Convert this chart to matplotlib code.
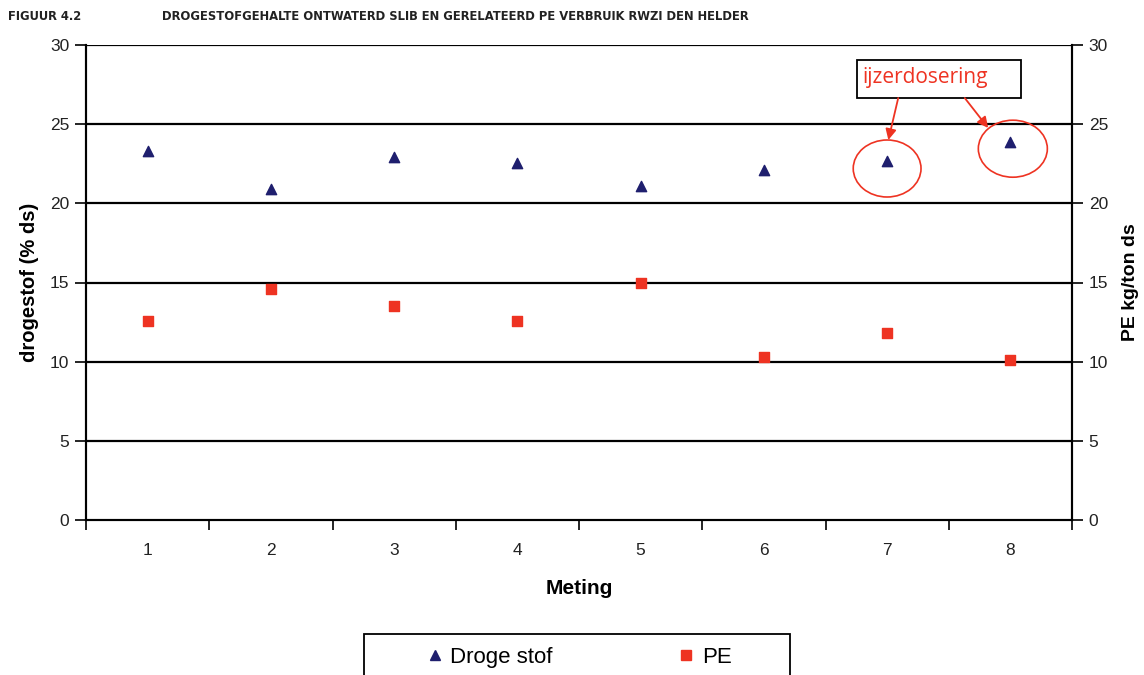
import matplotlib
matplotlib.use("Agg")
import matplotlib.pyplot as plt
from matplotlib.patches import Ellipse, Rectangle
from matplotlib.lines import Line2D

plt.rcParams['font.family'] = ['Liberation Sans', 'DejaVu Sans']

meting = [1, 2, 3, 4, 5, 6, 7, 8]
droge_stof = [23.3, 20.9, 22.9, 22.55, 21.1, 22.1, 22.7, 23.9]
pe = [12.6, 14.6, 13.5, 12.6, 15.0, 10.3, 11.8, 10.1]
yticks = [0, 5, 10, 15, 20, 25, 30]

W, H = 1144, 675
fig = plt.figure(figsize=(W/100, H/100), dpi=100)
ax = fig.add_axes([86/W, 1-520/H, (1072-86)/W, (520-45)/H])
ax2 = ax.twinx()

ax.set_xlim(0.5, 8.5)
ax.set_ylim(0, 30)
ax2.set_ylim(0, 30)
ax.set_yticks(yticks)
ax2.set_yticks(yticks)
ax.set_xticks(meting)
ax.set_xticks([m + 0.5 for m in [0] + meting], minor=True)
ax.tick_params(axis='x', which='major', length=0, pad=16.5, labelsize=12.5, labelcolor='#222')
ax.tick_params(axis='x', which='minor', length=7, width=1.2, direction='out')
ax.tick_params(axis='y', length=8, width=1.2, labelsize=12.5, labelcolor='#222', pad=4)
ax2.tick_params(axis='y', length=8, width=1.2, labelsize=12.5, labelcolor='#222', pad=4)

for y in yticks[1:]:
    ax.axhline(y, color='black', lw=1.6, zorder=1)
for a in (ax, ax2):
    a.spines['top'].set_visible(False)
    for s in ('left', 'right', 'bottom'):
        a.spines[s].set_linewidth(1.5)

ax.scatter(meting, droge_stof, marker='^', s=55, color='#1f1f6e', zorder=3, label='Droge stof')
ax2.scatter(meting, pe, marker='s', s=50, color='#ee3322', zorder=3, label='PE')

ax.set_xlabel('Meting', fontsize=15, fontweight='bold', labelpad=15)
ax.set_ylabel('drogestof (% ds)', fontsize=14.5, fontweight='bold', labelpad=8)
ax2.set_ylabel('PE kg/ton ds', fontsize=14, fontweight='bold', labelpad=10)

# annotation
red = '#ee3322'
ax.add_patch(Ellipse((meting[6], droge_stof[6] - 0.5), 0.55, 3.6, fill=False, ec=red, lw=1.2, zorder=4))
ax.add_patch(Ellipse((meting[7] + 0.02, droge_stof[7] - 0.45), 0.56, 3.6, fill=False, ec=red, lw=1.2, zorder=4))
ax.add_patch(Rectangle((6.753, 26.65), 8.09 - 6.753, 29.05 - 26.65, fc='white', ec='black', lw=1.3,
                       zorder=5, clip_on=False))
ax.text(6.80, 27.95, 'ijzerdosering', color=red, fontsize=15, family=['Open Sans', 'DejaVu Sans'],
        va='center', ha='left', zorder=6)
ax.annotate('', xy=(7.01, 24.0), xytext=(7.09, 26.65),
            arrowprops=dict(arrowstyle='-|>', color=red, lw=1.3, mutation_scale=16,
                            shrinkA=0, shrinkB=0), zorder=5)
ax.annotate('', xy=(7.82, 24.76), xytext=(7.63, 26.65),
            arrowprops=dict(arrowstyle='-|>', color=red, lw=1.3, mutation_scale=16,
                            shrinkA=0, shrinkB=0), zorder=5)

# titles
tfont = dict(fontsize=9.3, fontweight='bold', color='#222', family='DejaVu Sans',
             fontstretch='condensed', va='center')
fig.text(8/W, 1-17/H, 'FIGUUR 4.2', **tfont)
fig.text(162/W, 1-17/H, 'DROGESTOFGEHALTE ONTWATERD SLIB EN GERELATEERD PE VERBRUIK RWZI DEN HELDER', **tfont)

# legend
fig.add_artist(Rectangle((364/W, -0.05), (790-364)/W, 1-634/H + 0.05, transform=fig.transFigure,
                         fc='white', ec='black', lw=1.3, zorder=0))
handles = [Line2D([], [], marker='^', ls='none', color='#1f1f6e', markersize=7),
           Line2D([], [], marker='s', ls='none', color='#ee3322', markersize=7)]
leg = fig.legend(handles, ['Droge stof', 'PE'], loc='upper left', ncol=2,
                 bbox_to_anchor=(426/W, 1-647/H),
                 fontsize=16, frameon=False,
                 handlelength=0.8, handletextpad=0.3, borderpad=0, borderaxespad=0,
                 columnspacing=5.6)

fig.savefig('out.png', dpi=100)
